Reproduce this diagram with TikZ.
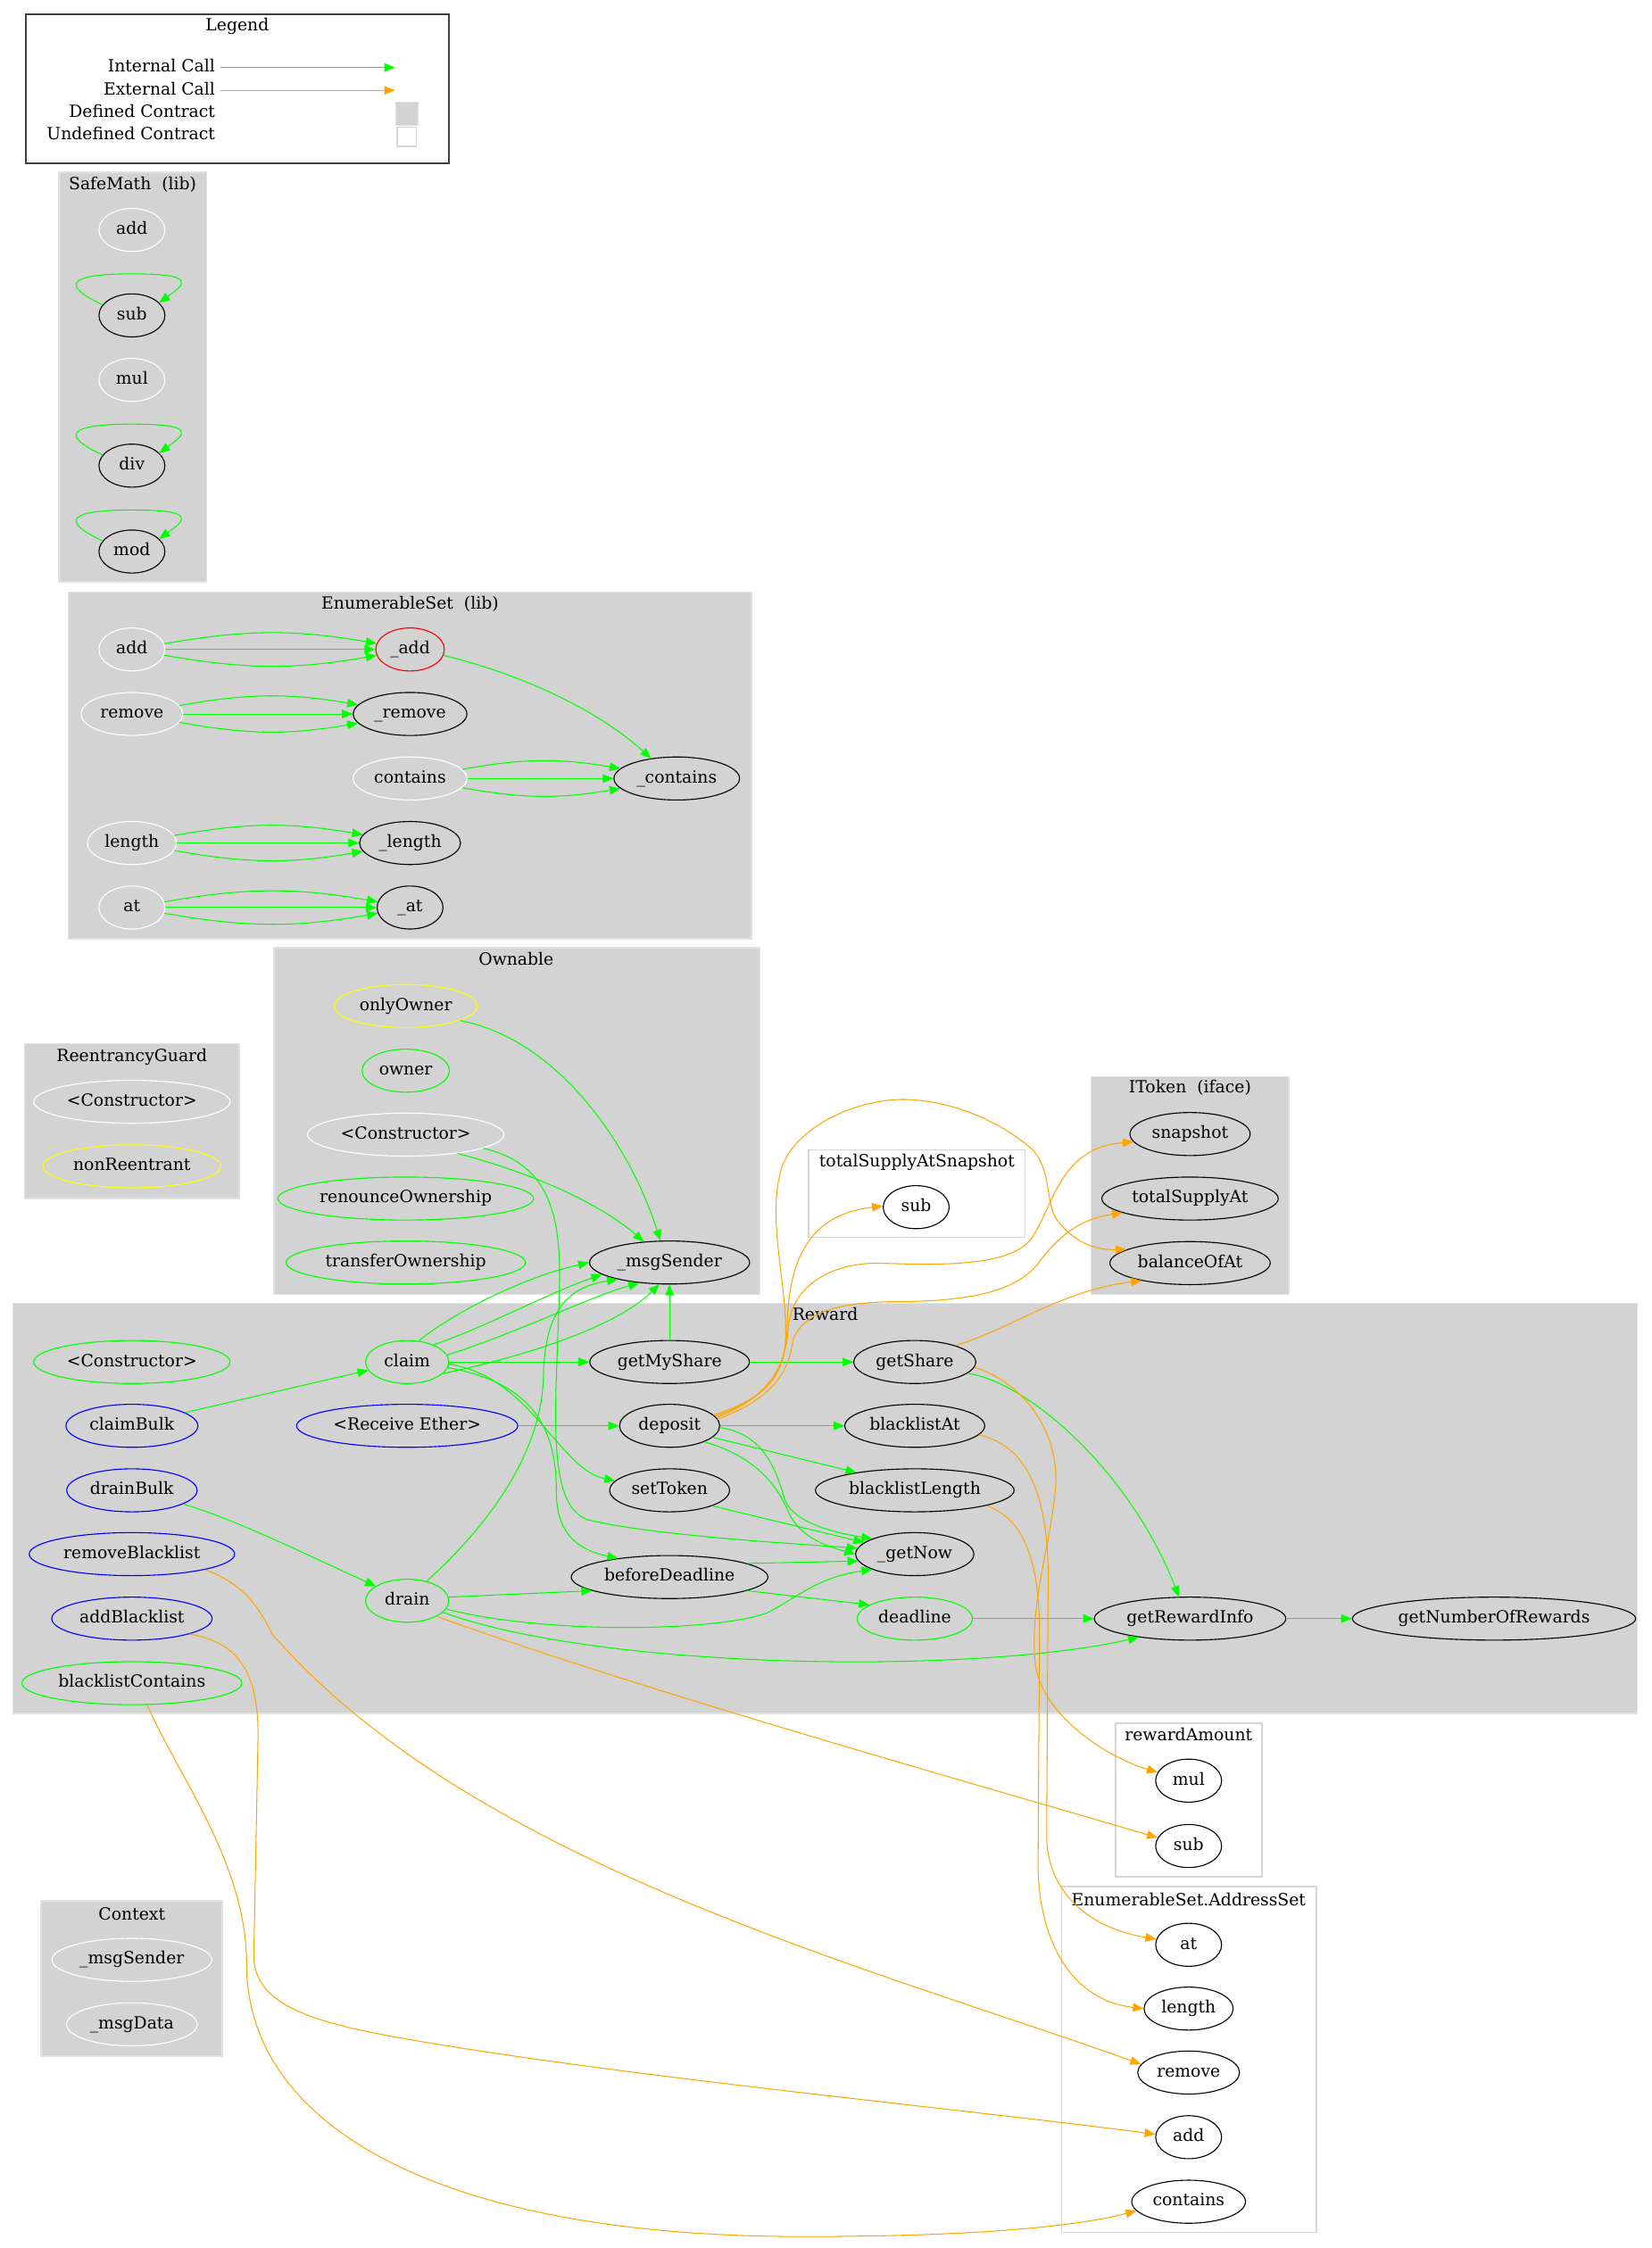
\documentclass[tikz,border=0pt]{standalone}
\usepackage{fontspec}
\setmainfont{DejaVu Serif}
\usetikzlibrary{shapes.geometric,arrows.meta}

\definecolor{gvgreen}{HTML}{00FF00}
\definecolor{gvorange}{HTML}{FFA500}
\definecolor{gvblue}{HTML}{0000FF}
\definecolor{gvyellow}{HTML}{FFFF00}
\definecolor{gvred}{HTML}{FF0000}
\definecolor{clustergray}{HTML}{D3D3D3}
\definecolor{clusterline}{HTML}{E2E2E2}
\definecolor{undefline}{HTML}{D6D6D6}

\tikzset{
	fn/.style={ellipse, line width=0.7pt, inner xsep=3pt, inner ysep=0pt, minimum width=46pt, minimum height=30pt, text height=8.5pt, text depth=2.5pt},
	fnblack/.style={fn, draw=black},
	fnwhite/.style={fn, draw=white},
	fngreen/.style={fn, draw=gvgreen},
	fnblue/.style={fn, draw=gvblue},
	fnyellow/.style={fn, draw=gvyellow},
	fnred/.style={fn, draw=gvred},
	callint/.style={draw=gvgreen, line width=0.65pt, -{Triangle[length=7.5pt,width=6pt]}},
	callext/.style={draw=gvorange, line width=0.65pt, -{Triangle[length=7.5pt,width=6pt]}},
	clusterbox/.style={fill=clustergray, draw=clusterline, line width=1pt},
	undefbox/.style={fill=white, draw=undefline, line width=1pt},
	ctitle/.style={inner sep=0pt, text height=8.5pt, text depth=2.5pt},
}

\begin{document}
\begin{tikzpicture}[x=1pt, y=-1pt, every node/.style={font=\fontsize{11.7}{14}\selectfont}]
	\useasboundingbox (0,0) rectangle (1152,1568);
	\fill[white] (0,0) rectangle (1152,1568);

	% clusters
	\draw[black!75, line width=1pt, fill=white] (18,10) rectangle (313,114);
	\draw[clusterbox] (41,120) rectangle (144,406);
	\draw[clusterbox] (47.5,413) rectangle (524,655);
	\draw[clusterbox] (17,728) rectangle (167,836);
	\draw[clusterbox] (191,661) rectangle (530,903);
	\draw[clusterbox] (761,751) rectangle (899,903);
	\draw[undefbox] (564,802) rectangle (715,863);
	\draw[clusterbox] (9,909) rectangle (1142,1195);
	\draw[undefbox] (778,1202) rectangle (880,1309);
	\draw[undefbox] (740.5,1316) rectangle (918,1557);
	\draw[clusterbox] (28.5,1326) rectangle (155,1434);

	\node[ctitle] (tlegend) at (165.5,18.5) {Legend};
	\node[ctitle] (tsafemath) at (92.5,129.3) {SafeMath~ (lib)};
	\node[ctitle] (tenumset) at (286,422) {EnumerableSet~ (lib)};
	\node[ctitle] (tguard) at (92,737.5) {ReentrancyGuard};
	\node[ctitle] (townable) at (360,670) {Ownable};
	\node[ctitle] (titoken) at (830,759.5) {IToken~ (iface)};
	\node[ctitle] (tsnapshot) at (639.5,811) {totalSupplyAtSnapshot};
	\node[ctitle] (treward) at (575.5,918) {Reward};
	\node[ctitle] (tamount) at (829,1211) {rewardAmount};
	\node[ctitle] (taddrset) at (829,1326) {EnumerableSet.AddressSet};
	\node[ctitle] (tcontext) at (92,1336) {Context};

	% legend
	\node[ctitle, anchor=east] (lgint) at (150.2,47.1) {Internal Call};
	\node[ctitle, anchor=east] (lgext) at (150.2,63) {External Call};
	\node[ctitle, anchor=east] (lgdeftext) at (150.2,78.6) {Defined Contract};
	\node[ctitle, anchor=east] (lgundeftext) at (150.2,94.2) {Undefined Contract};
	\coordinate (lgi0) at (153.5,47.1);
	\coordinate (lgi1) at (275.5,47.1);
	\coordinate (lge0) at (153.5,63);
	\coordinate (lge1) at (275.5,63);
	\node[draw=clusterline, fill=clustergray, minimum size=16pt, inner sep=0pt] (lgdef) at (283.7,79.2) {};
	\node[draw=undefline, line width=1pt, fill=white, minimum size=13.5pt, inner sep=0pt] (lgundef) at (283.7,95.5) {};
	\draw[callint] (lgi0) -- (lgi1);
	\draw[callext] (lge0) -- (lge1);

	% SafeMath
	\node[fnwhite] (smadd) at (92,160.4) {add};
	\node[fnblack] (smsub) at (92,220) {sub};
	\node[fnwhite] (smmul) at (92,265) {mul};
	\node[fnblack] (smdiv) at (92,324.8) {div};
	\node[fnblack] (smmod) at (92,384.7) {mod};

	% EnumerableSet
	\node[fnwhite] (esadd) at (92,453) {add};
	\node[fnred] (esaddi) at (286,453) {\_add};
	\node[fnwhite] (esremove) at (92,498) {remove};
	\node[fnblack] (esremovei) at (286,498) {\_remove};
	\node[fnwhite] (escontains) at (286,543) {contains};
	\node[fnblack] (escontainsi) at (472,543) {\_contains};
	\node[fnwhite] (eslength) at (92,588) {length};
	\node[fnblack] (eslengthi) at (286,588) {\_length};
	\node[fnwhite] (esat) at (92,633) {at};
	\node[fnblack] (esati) at (286,633) {\_at};

	% ReentrancyGuard
	\node[fnwhite] (rgctor) at (92,768.5) {<Constructor>};
	\node[fnyellow] (rgnonreentrant) at (92,813.5) {nonReentrant};

	% Ownable
	\node[fnyellow] (ownonly) at (283,701.7) {onlyOwner};
	\node[fngreen] (ownowner) at (283,746.8) {owner};
	\node[fnwhite] (ownctor) at (283,791.4) {<Constructor>};
	\node[fngreen] (ownrenounce) at (283,836) {renounceOwnership};
	\node[fngreen] (owntransfer) at (283,880.6) {transferOwnership};
	\node[fnblack] (ownmsgsender) at (467,880.6) {\_msgSender};

	% IToken and totalSupplyAtSnapshot
	\node[fnblack] (itsnapshot) at (830,791) {snapshot};
	\node[fnblack] (ittotalsupplyat) at (830,836) {totalSupplyAt};
	\node[fnblack] (itbalanceofat) at (830,881) {balanceOfAt};
	\node[fnblack] (tsassub) at (639,842) {sub};

	% Reward
	\node[fngreen] (rwctor) at (92,950) {<Constructor>};
	\node[fnblue] (rwclaimbulk) at (92,994.5) {claimBulk};
	\node[fnblue] (rwdrainbulk) at (92,1039.5) {drainBulk};
	\node[fnblue] (rwremovebl) at (92,1084) {removeBlacklist};
	\node[fnblue] (rwaddbl) at (92,1129) {addBlacklist};
	\node[fngreen] (rwblcontains) at (92,1174) {blacklistContains};
	\node[fngreen, minimum width=58pt] (rwclaim) at (284,950) {claim};
	\node[fnblue] (rwreceive) at (284,994.5) {<Receive Ether>};
	\node[fngreen, minimum width=58pt] (rwdrain) at (284,1116.5) {drain};
	\node[fnblack] (rwgetmyshare) at (467,950) {getMyShare};
	\node[fnblack] (rwdeposit) at (467,994.5) {deposit};
	\node[fnblack] (rwsettoken) at (467,1039.5) {setToken};
	\node[fnblack] (rwbeforedeadline) at (467,1100) {beforeDeadline};
	\node[fnblack] (rwgetshare) at (638,950) {getShare};
	\node[fnblack] (rwblat) at (638,994.5) {blacklistAt};
	\node[fnblack] (rwbllength) at (638,1039.5) {blacklistLength};
	\node[fnblack] (rwgetnow) at (638,1084) {\_getNow};
	\node[fngreen] (rwdeadline) at (638,1129) {deadline};
	\node[fnblack] (rwgetrewardinfo) at (830,1129) {getRewardInfo};
	\node[fnblack] (rwgetnumber) at (1042,1129) {getNumberOfRewards};

	% rewardAmount, EnumerableSet.AddressSet, Context
	\node[fnblack] (ramul) at (829,1242) {mul};
	\node[fnblack] (rasub) at (829,1287.6) {sub};
	\node[fnblack] (asat) at (829,1356.5) {at};
	\node[fnblack] (aslength) at (829,1401) {length};
	\node[fnblack] (asremove) at (829,1445.6) {remove};
	\node[fnblack] (asadd) at (829,1490.7) {add};
	\node[fnblack] (ascontains) at (829,1535.7) {contains};
	\node[fnwhite] (ctxmsgsender) at (92,1367) {\_msgSender};
	\node[fnwhite] (ctxmsgdata) at (92,1412) {\_msgData};

	% library calls
	\foreach \n in {smsub,smdiv,smmod}
		\draw[callint] (\n.160) .. controls +(-30,-14) and +(-44,0) .. ([yshift=29pt]\n.center) .. controls +(46,0) and +(18,-13) .. (\n.25);
	\foreach \a/\b in {esadd/esaddi, esremove/esremovei, escontains/escontainsi, eslength/eslengthi, esat/esati} {
		\draw[callint] (\a) to[bend left=10] (\b);
		\draw[callint] (\a) -- (\b);
		\draw[callint] (\a) to[bend right=10] (\b);
	}
	\draw[callint] (esaddi.-10) .. controls (370,472) and (420,498) .. (escontainsi.142);

	% Ownable calls
	\draw[callint] (ownonly.-15) .. controls (390,725) and (440,800) .. (ownmsgsender.113);
	\draw[callint] (ownctor.-20) .. controls (385,822) and (425,845) .. (ownmsgsender.141);
	\draw[callint] (ownctor.-10) .. controls (385,812) and (392,850) .. (390,905) .. controls (388,980) and (380,1050) .. (410,1060) .. controls (450,1070) and (540,1076) .. (rwgetnow.174);

	% Reward internal calls
	\draw[callint] (rwclaimbulk.14) -- (rwclaim.192);
	\draw[callint] (rwdrainbulk.-15) .. controls (165,1060) and (215,1085) .. (rwdrain.155);
	\draw[callint] (rwclaim.61) .. controls (310,920) and (360,892) .. (ownmsgsender.180);
	\draw[callint] (rwclaim.33) .. controls (340,925) and (380,903) .. (ownmsgsender.190);
	\draw[callint] (rwclaim.10) .. controls (360,930) and (410,905) .. (ownmsgsender.214);
	\draw[callint] (rwclaim.-18) .. controls (370,945) and (430,925) .. (ownmsgsender.245);
	\draw[callint] (rwdrain.45) .. controls (345,1060) and (378,1010) .. (379,960) .. controls (380,915) and (395,898) .. (ownmsgsender.198);
	\draw[callint] (rwclaim) -- (rwgetmyshare);
	\draw[callint] (rwclaim.-3) .. controls (370,960) and (390,1025) .. (rwsettoken.170);
	\draw[callint] (rwclaim.-8) .. controls (375,965) and (388,1000) .. (388,1040) .. controls (388,1065) and (398,1080) .. (rwbeforedeadline.160);
	\draw[callint] (rwgetmyshare) -- (ownmsgsender);
	\draw[callint] (rwgetmyshare) -- (rwgetshare);
	\draw[callint] (rwreceive) -- (rwdeposit);
	\draw[callint] (rwdeposit) -- (rwblat);
	\draw[callint] (rwdeposit.-15) -- (rwbllength.163);
	\draw[callint] (rwdeposit.-2) .. controls (530,1000) and (540,1020) .. (547,1045) .. controls (552,1060) and (575,1068) .. (rwgetnow.160);
	\draw[callint] (rwdeposit.-25) .. controls (525,1015) and (542,1035) .. (550,1055) .. controls (558,1072) and (575,1078) .. (rwgetnow.180);
	\draw[callint] (rwsettoken.-20) -- (rwgetnow.167);
	\draw[callint] (rwbeforedeadline.10) -- (rwgetnow.187);
	\draw[callint] (rwbeforedeadline.-10) -- (rwdeadline.163);
	\draw[callint] (rwdrain.5) -- (rwbeforedeadline.190);
	\draw[callint] (rwdrain.-12) .. controls (380,1140) and (500,1138) .. (535,1125) .. controls (555,1115) and (570,1100) .. (rwgetnow.200);
	\draw[callint] (rwdrain.-18) .. controls (420,1165) and (680,1168) .. (rwgetrewardinfo.200);
	\draw[callint] (rwdeadline) -- (rwgetrewardinfo);
	\draw[callint] (rwgetshare.-12) .. controls (720,965) and (790,1030) .. (rwgetrewardinfo.117);
	\draw[callint] (rwgetrewardinfo) -- (rwgetnumber);

	% external calls
	\draw[callext] (rwgetshare.22) .. controls (705,927) and (740,900) .. (itbalanceofat.200);
	\draw[callext] (rwdeposit.14) .. controls (535,975) and (548,960) .. (549,925) .. controls (550,865) and (575,846) .. (tsassub.178);
	\draw[callext] (rwdeposit.10) .. controls (535,975) and (548,955) .. (550,925) .. controls (552,900) and (575,882) .. (610,881) .. controls (650,882) and (705,885) .. (720,863) .. controls (735,840) and (740,800) .. (itsnapshot.188);
	\draw[callext] (rwdeposit.8) .. controls (535,977) and (550,960) .. (553,935) .. controls (560,915) and (585,909) .. (620,908) .. controls (680,908) and (710,900) .. (725,880) .. controls (740,860) and (755,850) .. (ittotalsupplyat.192);
	\draw[callext] (rwdeposit.12) .. controls (535,975) and (548,958) .. (548,930) .. controls (548,890) and (535,850) .. (545,815) .. controls (555,785) and (600,765) .. (635,767) .. controls (670,769) and (700,785) .. (718,800) .. controls (735,815) and (728,840) .. (738,852) .. controls (748,864) and (760,872) .. (itbalanceofat.168);
	\draw[callext] (rwgetshare.-5) .. controls (715,965) and (740,1000) .. (736,1040) .. controls (732,1080) and (718,1120) .. (722,1160) .. controls (726,1195) and (770,1225) .. (ramul.165);
	\draw[callext] (rwblat.-8) .. controls (715,1008) and (731,1040) .. (731,1100) -- (730,1280) .. controls (730,1320) and (760,1345) .. (asat.170);
	\draw[callext] (rwbllength.-12) .. controls (715,1060) and (725,1090) .. (725,1140) -- (724,1300) .. controls (724,1350) and (745,1395) .. (aslength.180);
	\draw[callext] (rwdrain.-28) .. controls (450,1180) and (700,1250) .. (rasub.165);
	\draw[callext] (rwremovebl.-12) .. controls (170,1105) and (180,1120) .. (190,1140) .. controls (330,1300) and (600,1370) .. (asremove.170);
	\draw[callext] (rwaddbl.-15) .. controls (165,1145) and (180,1165) .. (180,1210) -- (177,1365) .. controls (178,1400) and (220,1412) .. (300,1425) .. controls (450,1450) and (680,1472) .. (asadd.175);
	\draw[callext] (rwblcontains.-55) .. controls (125,1240) and (172,1300) .. (172,1370) .. controls (172,1480) and (300,1560) .. (560,1560) .. controls (680,1560) and (750,1553) .. (ascontains.190);
\end{tikzpicture}
\end{document}
